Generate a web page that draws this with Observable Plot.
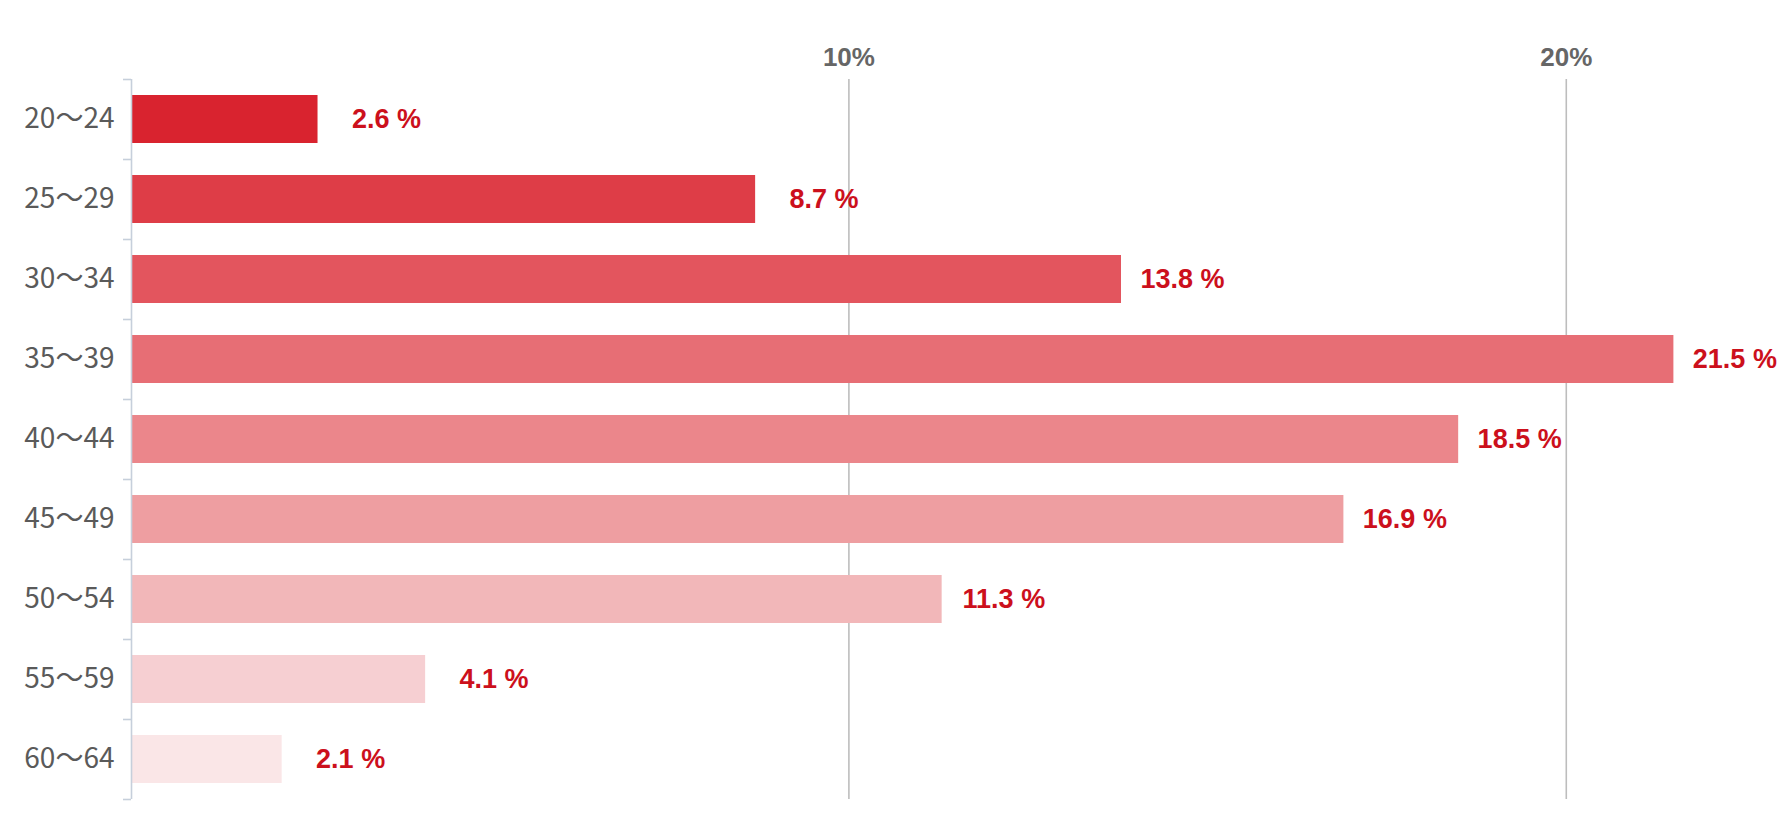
<!DOCTYPE html>
<html>
<head>
<meta charset="utf-8">
<script src="https://cdn.jsdelivr.net/npm/d3@7"></script>
<script src="https://cdn.jsdelivr.net/npm/@observablehq/plot@0.6"></script>
<style>
  html, body { margin: 0; padding: 0; background: #fff; }
  #chart svg { display: block; }
</style>
</head>
<body>
<div id="chart"></div>
<script>
const ages = ["20〜24", "25〜29", "30〜34", "35〜39", "40〜44", "45〜49", "50〜54", "55〜59", "60〜64"];
const shares = [2.6, 8.7, 13.8, 21.5, 18.5, 16.9, 11.3, 4.1, 2.1];
const xTicks = [10, 20];
const barColors = ["#d9232f", "#de3d47", "#e3555e", "#e76e75", "#eb868b", "#ee9ea1", "#f2b7b9", "#f6cfd2", "#fae6e7"];

const data = ages.map((age, i) => ({age, value: shares[i]}));

const chart = Plot.plot({
  width: 1788,
  height: 817,
  marginLeft: 131,
  marginRight: 7,
  marginTop: 79,
  marginBottom: 18,
  style: {fontFamily: "'Liberation Sans', Arial, sans-serif", background: "#fff"},
  x: {domain: [0, 23], axis: null, label: null},
  y: {domain: ages, paddingInner: 0.4, paddingOuter: 0.2, axis: null, label: null},
  color: {domain: ages, range: barColors},
  marks: [
    Plot.ruleX(xTicks, {stroke: "#bdbdbd", strokeWidth: 1.6}),
    Plot.axisX(xTicks, {
      anchor: "top", tickSize: 0, tickPadding: 14, label: null,
      tickFormat: d => d + "%",
      fontSize: 26, fontWeight: "bold", color: "#666666",
      fontFamily: "'Liberation Sans', Arial, sans-serif"
    }),
    Plot.barX(data, {x: "value", y: "age", fill: "age"}),
    Plot.ruleX([0], {stroke: "#c6cfdb", strokeWidth: 1.6}),
    Plot.axisY({
      tickSize: 0, tickPadding: 17, fontSize: 28, color: "#5a5a5a", label: null,
      fontFamily: "'Noto Sans CJK JP', 'Noto Sans', sans-serif"
    }),
    Plot.axisY({text: null, label: null, tickSize: 8, stroke: "#c6cfdb", strokeWidth: 1.6, dy: -40}),
    Plot.axisY([ages[ages.length - 1]], {text: null, label: null, tickSize: 8, stroke: "#c6cfdb", strokeWidth: 1.6, dy: 40}),
    Plot.text(data, {
      x: "value", y: "age",
      text: d => d.value.toFixed(1) + " %",
      dx: 103, textAnchor: "end",
      fill: "#cc101c", fontSize: 27, fontWeight: "bold",
      fontFamily: "'Liberation Sans', Arial, sans-serif"
    })
  ]
});
document.getElementById("chart").appendChild(chart);
</script>
</body>
</html>
